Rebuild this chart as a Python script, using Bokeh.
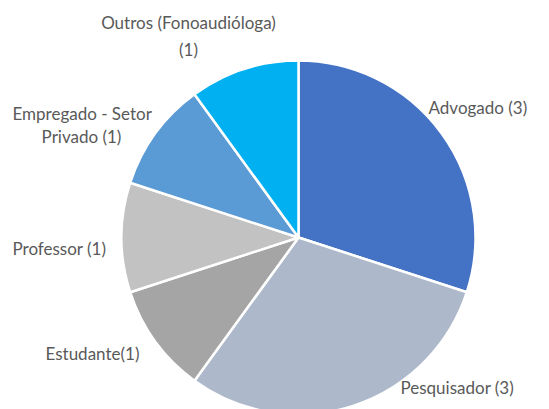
import numpy as np
from bokeh.plotting import figure
from bokeh.models import Range1d, ColumnDataSource
from bokeh.core.properties import value
from bokeh.embed import file_html
from bokeh.resources import INLINE

# ---- data ----
categories = ["Advogado", "Pesquisador", "Estudante", "Professor",
              "Empregado - Setor Privado", "Outros (Fonoaudióloga)"]
counts = [3, 3, 1, 1, 1, 1]
colors = ["#4472C4", "#ADB9CA", "#A5A5A5", "#C2C2C2", "#5B9BD5", "#00B0F0"]
label_lines = [["Advogado (3)"], ["Pesquisador  (3)"], ["Estudante(1)"],
               ["Professor  (1)"], ["Empregado - Setor", "Privado (1)"],
               ["Outros (Fonoaudióloga)", "(1)"]]

# ---- layout (page pixel coordinates) ----
W, H = 549, 409
def Y(py):
    return H - py

cx, cy, r = 298, Y(237), 177

p = figure(width=W, height=H, output_backend="svg", toolbar_location=None,
           x_range=Range1d(0, W), y_range=Range1d(0, H),
           min_border=0, outline_line_color=None)
p.axis.visible = False
p.grid.visible = False
p.background_fill_color = "white"

total = sum(counts)
cum = np.concatenate([[0], np.cumsum(counts)])
start_clock = np.pi / 2 - 2 * np.pi * cum[:-1] / total
end_clock = np.pi / 2 - 2 * np.pi * cum[1:] / total
src = ColumnDataSource(dict(start=list(end_clock), end=list(start_clock), color=colors))
p.wedge(x=cx, y=cy, radius=r, start_angle="start", end_angle="end",
        fill_color="color", line_color="white", line_width=2.5, source=src)

# label placements: (x, y, align) per line
placements = [
    [(428, 107, "left")],
    [(400, 387, "left")],
    [(45, 353, "left")],
    [(12, 248, "left")],
    [(12, 113, "left"), (81, 136, "center")],
    [(188, 22, "center"), (188, 49, "center")],
]
xs, ys, ts, als = [], [], [], []
for lines, pl in zip(label_lines, placements):
    for t, (x, y, a) in zip(lines, pl):
        xs.append(x); ys.append(Y(y)); ts.append(t); als.append(a)
for a in ("left", "center"):
    idx = [i for i in range(len(ts)) if als[i] == a]
    p.text(x=[xs[i] for i in idx], y=[ys[i] for i in idx], text=[ts[i] for i in idx],
           text_align=a, text_baseline="middle", text_font=value("Lato"),
           text_font_size="17px", text_color="#595959")

open("out.html", "w").write(file_html(p, INLINE))
